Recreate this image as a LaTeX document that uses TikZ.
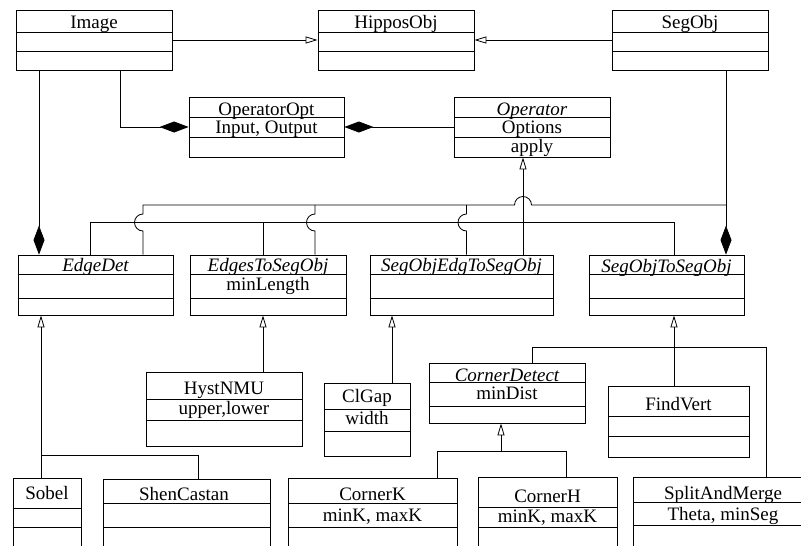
\documentclass[tikz,border=0pt]{standalone}
\usepackage{fontspec}
\setmainfont{Liberation Serif}
\usetikzlibrary{arrows.meta,fit}
\tikzset{
  boxsty/.style={draw, line width=0.8pt, inner sep=0pt, fit=#1},
  boxline/.style={line width=0.8pt},
  txt/.style={anchor=base, inner sep=0pt, font=\fontsize{19}{22}\selectfont},
  itxt/.style={txt, font=\fontsize{19}{22}\selectfont\itshape},
  conn/.style={line width=0.8pt},
  inh/.style={conn, -{Triangle[open, length=12pt, width=7pt, line width=0.8pt]}},
  comp/.style={conn, -{Diamond[length=29pt, width=11pt]}},
}
% name, x1, y1, x2, y2, line1, line2
\newcommand{\umlbox}[7]{%
  \path (#2,#3) coordinate (#1-nw) (#4,#5) coordinate (#1-se);
  \node[boxsty={(#1-nw)(#1-se)}] (#1) {};
  \draw[boxline] (#2,#6) -- (#4,#6);
  \draw[boxline] (#2,#7) -- (#4,#7);
}
\begin{document}
\begin{tikzpicture}[x=1pt, y=-1pt]
\useasboundingbox (0,0) rectangle (801,546);
\fill[white] (0,0) rectangle (801,546);

% top row
\umlbox{img}{16}{10}{172}{70}{32}{51}
\node[txt] (img-t) at (94,28) {Image};
\umlbox{hip}{318}{10}{474}{70}{32}{51}
\node[txt] (hip-t) at (396,28) {HipposObj};
\umlbox{seg}{612}{10}{768}{70}{32}{51}
\node[txt] (seg-t) at (690,28) {SegObj};

% operator row
\umlbox{oopt}{189}{97}{344}{157}{117}{137}
\node[txt] (oopt-t) at (266.5,115) {OperatorOpt};
\node[txt] (oopt-a) at (266.5,133) {Input, Output};
\umlbox{op}{454}{97}{610}{157}{117}{137}
\node[itxt] (op-t) at (532,115) {Operator};
\node[txt] (op-a) at (532,133) {Options};
\node[txt] (op-m) at (532,152) {apply};

% abstract operators
\umlbox{edge}{18}{255}{173}{315}{274}{298}
\node[itxt] (edge-t) at (95.5,271) {EdgeDet};
\umlbox{e2s}{190}{255}{346}{315}{274}{298}
\node[itxt] (e2s-t) at (268,271) {EdgesToSegObj};
\node[txt] (e2s-a) at (268,290) {minLength};
\umlbox{soe}{370}{255}{553}{315}{274}{298}
\node[itxt] (soe-t) at (461.5,271) {SegObjEdgToSegObj};
\umlbox{ss}{589}{255}{744}{315}{274}{298}
\node[itxt] (ss-t) at (666.5,272) {SegObjToSegObj};

% middle row
\umlbox{hyst}{146}{372}{302}{446}{399}{420}
\node[txt] (hyst-t) at (224,394) {HystNMU};
\node[txt] (hyst-a) at (224,414) {upper,lower};
\umlbox{clg}{324}{383}{410}{456}{409}{431}
\node[txt] (clg-t) at (367,402) {ClGap};
\node[txt] (clg-a) at (367,424) {width};
\umlbox{cd}{429}{363}{585}{423}{382}{406}
\node[itxt] (cd-t) at (507,381) {CornerDetect};
\node[txt] (cd-a) at (507,399) {minDist};
\umlbox{fv}{608}{386}{749}{457}{416}{436}
\node[txt] (fv-t) at (678.5,410) {FindVert};

% bottom row (cut by the page)
\umlbox{sob}{13}{478}{81}{560}{508}{527}
\node[txt] (sob-t) at (47,499) {Sobel};
\umlbox{shen}{103}{479}{270}{560}{503}{527}
\node[txt] (shen-t) at (184,500) {ShenCastan};
\umlbox{ck}{288}{478}{457}{560}{503}{527}
\node[txt] (ck-t) at (372.5,500) {CornerK};
\node[txt] (ck-a) at (372.5,521.5) {minK, maxK};
\umlbox{ch}{478}{477}{617}{560}{507}{527}
\node[txt] (ch-t) at (547.5,502) {CornerH};
\node[txt] (ch-a) at (547.5,522) {minK, maxK};
\umlbox{sam}{633}{477}{813}{560}{502}{525}
\node[txt] (sam-t) at (723,499) {SplitAndMerge};
\node[txt] (sam-a) at (723,520) {Theta, minSeg};

% top connectors
\draw[inh] (img.east) -- (hip.west);
\draw[inh] (seg.west) -- (hip.east);
\draw[comp] (img.south -| 120,0) |- (oopt.west);
\draw[comp] (op.west) -- (oopt.east);
\draw[comp] (img.south -| 39,0) -- (edge.north -| 39,0);
\draw[comp] (seg.south -| 726,0) -- (ss.north -| 726,0);

% inheritance tree to Operator (lower line)
\coordinate (jn) at (523,222);
\draw[conn] (edge.north -| 90,0) -- (90,222) -- (674,222) -- (ss.north -| 674,0);
\draw[conn] (jn -| 263,0) -- (e2s.north -| 263,0);
\draw[inh] (soe.north -| 523,0) -- (op.south -| 523,0);

% association line from SegObj (upper line, with jumps)
\draw[conn] (edge.north -| 143,0) -- (143,231) arc[start angle=90, end angle=270, radius=8.5]
  -- (143,205) -- (514.5,205) arc[start angle=180, end angle=360, radius=8.5] -- (726,205);
\draw[conn] (e2s.north -| 315,0) -- (315,231) arc[start angle=90, end angle=270, radius=8.5] -- (315,205);
\draw[conn] (soe.north -| 466.5,0) -- (466.5,231) arc[start angle=90, end angle=270, radius=8.5] -- (466.5,205);

% lower inheritance
\draw[inh] (sob.north -| 41,0) -- (edge.south -| 41,0);
\draw[conn] (41,455) -- (198,455) -- (shen.north -| 198,0);
\draw[inh] (hyst.north -| 263,0) -- (e2s.south -| 263,0);
\draw[inh] (clg.north -| 392,0) -- (soe.south -| 392,0);
\draw[inh] (fv.north -| 674,0) -- (ss.south -| 674,0);
\draw[conn] (cd.north -| 532,0) -- (532,347) -- (766,347) -- (sam.north -| 766,0);
\draw[inh] (501,451) -- (cd.south -| 501,0);
\draw[conn] (ck.north -| 437,0) -- (437,451) -- (566,451) -- (ch.north -| 566,0);
\end{tikzpicture}
\end{document}
